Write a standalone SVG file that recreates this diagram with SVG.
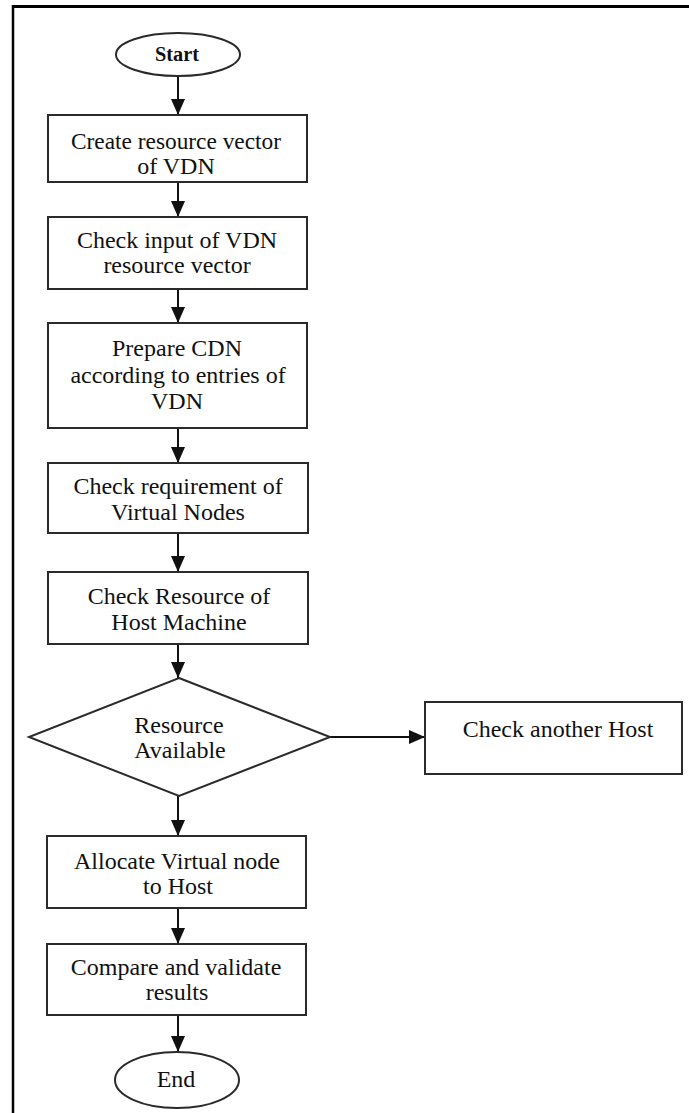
<svg xmlns="http://www.w3.org/2000/svg" width="689" height="1113" viewBox="0 0 689 1113">
<defs>
<style>
.shape{fill:#fff;stroke:#2a2a2a;stroke-width:2}
.t{font-family:"Liberation Serif","Times New Roman",serif;font-size:24px;fill:#111;text-anchor:middle}
.conn{stroke:#111;stroke-width:2;fill:none;marker-end:url(#arr)}
</style>
<marker id="arr" markerUnits="userSpaceOnUse" markerWidth="16" markerHeight="14" refX="16" refY="7" orient="auto">
<path d="M0,0 L16,7 L0,14 Z" fill="#111"/>
</marker>
</defs>
<rect width="689" height="1113" fill="#fff"/>
<g id="frame">
<line x1="12" y1="6.5" x2="689" y2="6.5" stroke="#000" stroke-width="3"/>
<line x1="13" y1="5" x2="13" y2="1113" stroke="#000" stroke-width="2.5"/>
</g>
<g id="connectors">
<line class="conn" x1="178" y1="76" x2="178" y2="115"/>
<line class="conn" x1="178" y1="182" x2="178" y2="217"/>
<line class="conn" x1="178" y1="289" x2="178" y2="323"/>
<line class="conn" x1="178" y1="428" x2="178" y2="463"/>
<line class="conn" x1="178" y1="533" x2="178" y2="572"/>
<line class="conn" x1="178" y1="644" x2="178" y2="678"/>
<line class="conn" x1="330" y1="737" x2="425" y2="737"/>
<line class="conn" x1="178" y1="796" x2="178" y2="836"/>
<line class="conn" x1="178" y1="908" x2="178" y2="944"/>
<line class="conn" x1="178" y1="1015" x2="178" y2="1052"/>
</g>
<g id="start">
<ellipse class="shape" cx="178" cy="54.5" rx="62" ry="21.5"/>
<text class="t" x="177" y="61" style="font-size:20px;font-weight:bold" textLength="44" lengthAdjust="spacingAndGlyphs">Start</text>
</g>
<g id="create">
<rect class="shape" x="48" y="115" width="259" height="67"/>
<text class="t" x="176" y="149" textLength="210" lengthAdjust="spacingAndGlyphs">Create resource vector</text>
<text class="t" x="176" y="174">of VDN</text>
</g>
<g id="checkinput">
<rect class="shape" x="48" y="217" width="259" height="72"/>
<text class="t" x="177" y="248">Check input of VDN</text>
<text class="t" x="177" y="273">resource vector</text>
</g>
<g id="prepare">
<rect class="shape" x="48" y="323" width="259" height="105"/>
<text class="t" x="177" y="356">Prepare CDN</text>
<text class="t" x="178" y="383">according to entries of</text>
<text class="t" x="177" y="409">VDN</text>
</g>
<g id="checkreq">
<rect class="shape" x="48" y="463" width="260" height="70"/>
<text class="t" x="178" y="494">Check requirement  of</text>
<text class="t" x="178" y="520">Virtual Nodes</text>
</g>
<g id="checkres">
<rect class="shape" x="48" y="572" width="260" height="72"/>
<text class="t" x="179" y="604">Check Resource of</text>
<text class="t" x="179" y="630">Host Machine</text>
</g>
<g id="decision">
<polygon class="shape" points="179,678 330,737 179,796 29,737"/>
<text class="t" x="179" y="733">Resource</text>
<text class="t" x="180" y="758">Available</text>
</g>
<g id="another">
<rect class="shape" x="425" y="702" width="257" height="72"/>
<text class="t" x="558" y="737">Check another Host</text>
</g>
<g id="allocate">
<rect class="shape" x="47" y="836" width="259" height="72"/>
<text class="t" x="177" y="869">Allocate Virtual node</text>
<text class="t" x="178" y="894">to Host</text>
</g>
<g id="compare">
<rect class="shape" x="47" y="944" width="259" height="71"/>
<text class="t" x="176" y="975">Compare and validate</text>
<text class="t" x="177" y="1000">results</text>
</g>
<g id="end">
<ellipse class="shape" cx="177" cy="1080" rx="62" ry="28"/>
<text class="t" x="176" y="1087">End</text>
</g>
</svg>
